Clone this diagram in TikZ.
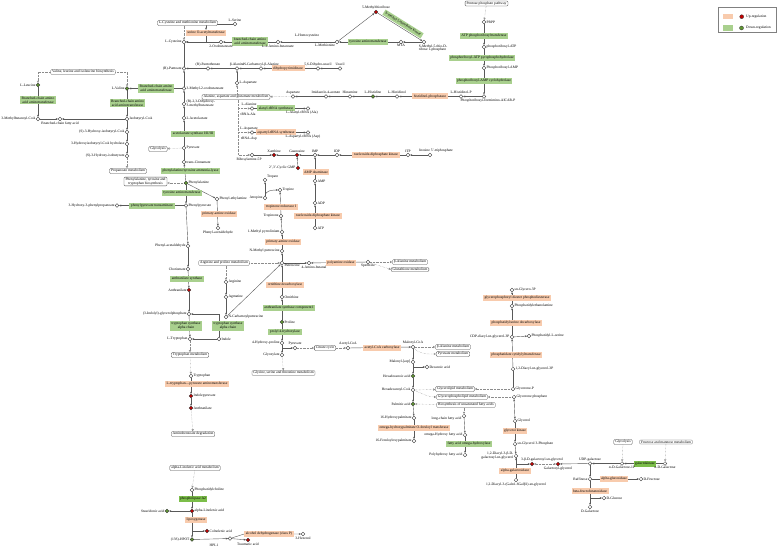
\documentclass[tikz,border=0pt]{standalone}
\usepackage{fontspec}
\setmainfont{Liberation Serif}
\usetikzlibrary{arrows.meta, shapes, positioning}
\pgfdeclarelayer{bg}
\pgfsetlayers{bg,main}
\definecolor{enzred}{RGB}{248,203,173}
\definecolor{enzgreen}{RGB}{169,208,142}
\definecolor{enzgreentwo}{RGB}{124,190,74}
\definecolor{dotred}{RGB}{192,0,0}
\definecolor{dotgreen}{RGB}{96,150,50}

\begin{document}
\begin{tikzpicture}[x=1pt, y=-1pt, >={Stealth[length=2.3pt,width=1.9pt]}, line width=0.3pt]

\tikzstyle{lbl} = [font=\fontsize{3.6}{3.9}\selectfont, inner sep=0.5pt, text=black]
\tikzstyle{cpd} = [circle, draw=black!80, fill=white, inner sep=0pt, minimum size=3.6pt]
\tikzstyle{cpdup} = [cpd, fill=dotred]
\tikzstyle{cpddn} = [cpd, fill=dotgreen]
\tikzstyle{enzup} = [rectangle, fill=enzred, lbl, inner xsep=1.5pt, inner ysep=1pt, minimum height=6pt, align=center]
\tikzstyle{enzdn} = [enzup, fill=enzgreen]
\tikzstyle{enzdk} = [enzup, fill=enzgreentwo]
\tikzstyle{pwbox} = [rectangle, rounded corners=1pt, draw=black!70, fill=white, lbl, inner xsep=1.5pt, inner ysep=0.8pt, align=center]
\tikzstyle{rxn} = [draw=black!65, ->]
\tikzstyle{maplink} = [draw=black!45, densely dotted, -{Triangle[open, length=2.2pt, width=2.2pt]}]

\useasboundingbox (0,0) rectangle (778,548);

% Legend
\node[draw=black!50, minimum width=58pt, minimum height=25.6pt, inner sep=0pt] (legend) at (747.5,19.5) {};
\node[enzup, minimum width=10pt, minimum height=5.3pt, inner sep=0pt] (legup) at (728,16.7) {};
\node[cpdup, minimum size=4pt] (legupdot) at (741.7,16.7) {};
\node[lbl, anchor=west] (leguptxt) at (745.5,16.7) {Up-regulation};
\node[enzdn, minimum width=10pt, minimum height=5.3pt, inner sep=0pt] (legdn) at (728,28) {};
\node[cpddn, minimum size=4pt] (legdndot) at (741.5,28) {};
\node[lbl, anchor=west] (legdntxt) at (745.5,28) {Down-regulation};

% Pathway maps
\node[pwbox] (cysmet) at (187.5,23) {L-Cysteine and methionine metabolism};
\node[pwbox] (pentose) at (486.5,3.5) {Pentose phosphate pathway};
\node[pwbox] (vli) at (83,72) {Valine, leucine and isoleucine biosynthesis};
\node[pwbox] (glycolysisA) at (158,149) {Glycolysis};
\node[pwbox] (propan) at (128,171) {Propanoate metabolism};
\node[pwbox] (pheb) at (145.5,181.5) {Phenylalanine, tyrosine and\\tryptophan biosynthesis};
\node[pwbox] (alaasp) at (236,97) {Alanine, aspartate and glutamate metabolism};
\node[pwbox] (argpro) at (224,263) {Arginine and proline metabolism};
\node[pwbox] (trpmet) at (190,355) {Tryptophan metabolism};
\node[pwbox] (betaalaA) at (410,262) {β-Alanine metabolism};
\node[pwbox] (glutath) at (410,269.5) {Glutathione metabolism};
\node[pwbox] (citrate) at (325,348) {Citrate cycle};
\node[pwbox] (glyser) at (283.5,373) {Glycine, serine and threonine metabolism};
\node[pwbox] (aminobenz) at (193,434) {Aminobenzoate degradation};
\node[pwbox] (linolen) at (195,468) {alpha-Linolenic acid metabolism};
\node[pwbox] (betaalaB) at (453,347) {β-Alanine metabolism};
\node[pwbox] (pyrmet) at (453,354) {Pyruvate metabolism};
\node[pwbox] (glyclip) at (455,389) {Glycerolipid metabolism};
\node[pwbox] (glycphos) at (462,397) {Glycerophospholipid metabolism};
\node[pwbox] (biounsat) at (466,405) {Biosynthesis of unsaturated fatty acids};
\node[pwbox] (glycolysisB) at (623,442) {Glycolysis};
\node[pwbox] (frucman) at (666,442) {Fructose and mannose metabolism};

% Enzymes
\node[enzup] (serat) at (206,33) {serine O-acetyltransferase};
\node[enzdn] (bcatA) at (250,41.5) {branched-chain amino\\acid aminotransferase};
\node[enzdn] (tyratA) at (368,42) {tyrosine aminotransferase};
\node[enzdn, rotate=-32] (mtrk) at (403,24) {S-methyl-5-thioribose kinase};
\node[enzdn] (atpprt) at (484,36) {ATP phosphoribosyltransferase};
\node[enzdn] (prppase) at (482,58) {phosphoribosyl-ATP pyrophosphohydrolase};
\node[enzdn] (prcyc) at (484,81) {phosphoribosyl-AMP cyclohydrolase};
\node[enzup] (hisp) at (430,96.5) {histidinol-phosphatase};
\node[enzup] (dhp) at (288,68.5) {dihydropyrimidinase};
\node[enzdn] (bcatB) at (156,88.5) {Branched-chain amino\\acid aminotransferase};
\node[enzdn] (bcatC) at (38,100) {Branched-chain amino\\acid aminotransferase};
\node[enzdn] (bcatD) at (127.5,103) {Branched-chain amino\\acid aminotransferase};
\node[enzdn] (als) at (193,134) {acetolactate synthase I/II/III};
\node[enzdn] (pal) at (190.5,171) {phenylalanine/tyrosine ammonia-lyase};
\node[enzdn] (alars) at (276,108.5) {alanyl-tRNA synthetase};
\node[enzup] (asprs) at (276,132.5) {aspartyl-tRNA synthetase};
\node[enzup] (ndkA) at (376,155) {nucleoside-diphosphate kinase};
\node[enzup] (ampd) at (316,172) {AMP deaminase};
\node[enzdn] (tyratB) at (182,193) {tyrosine aminotransferase};
\node[enzdn] (pptrans) at (152,205.5) {phenylpyruvate transaminase};
\node[enzup] (paoA) at (219,214) {primary-amine oxidase};
\node[enzup] (trr) at (281,207) {tropinone reductase I};
\node[enzup] (ndkB) at (318,216) {nucleoside-diphosphate kinase};
\node[enzup] (paoB) at (283,242) {primary-amine oxidase};
\node[enzup] (pox) at (341,263) {polyamine oxidase};
\node[enzdn] (anths) at (187,279) {anthranilate synthase};
\node[enzup] (odc) at (285,285) {ornithine decarboxylase};
\node[enzdn] (ascomp) at (289,308) {anthranilate synthase component I};
\node[enzdn] (trpsA) at (186,326) {tryptophan synthase\\alpha chain};
\node[enzdn] (trpsB) at (228,326) {tryptophan synthase\\alpha chain};
\node[enzdn] (p4h) at (285,332) {prolyl 4-hydroxylase};
\node[enzup] (acc) at (382,348) {acetyl-CoA carboxylase};
\node[enzup] (trpat) at (197,384) {L-tryptophan---pyruvate aminotransferase};
\node[enzdk] (pla2) at (193,499) {phospholipase A2};
\node[enzup] (lox) at (196,520) {lipoxygenase};
\node[enzup] (adh) at (269,534) {alcohol dehydrogenase (class P)};
\node[enzup] (ohpft) at (414,428) {omega-hydroxypalmitate O-feruloyl transferase};
\node[enzdn] (faoh) at (469,444) {fatty acid omega-hydroxylase};
\node[enzup] (gdpd) at (517,298) {glycerophosphoryl diester phosphodiesterase};
\node[enzup] (psd) at (516,323) {phosphatidylserine decarboxylase};
\node[enzup] (pct) at (516,355) {phosphatidate cytidylyltransferase};
\node[enzup] (glk) at (515,431) {glycerol kinase};
\node[enzup] (agalA) at (515,471) {alpha-galactosidase};
\node[enzdk] (galk) at (645,464) {galactokinase};
\node[enzup] (agalB) at (614,479) {alpha-glucosidase};
\node[enzup] (bfruct) at (590,491) {beta-fructofuranosidase};

% Compounds: cysteine and methionine
\node[cpd, label={[lbl]above:{L-Serine}}] (lser) at (235,24) {};
\node[cpd, label={[lbl]left:{L-Cysteine}}] (lcys) at (184,42) {};
\node[cpd, label={[lbl]below:{2-Oxobutanoate}}] (oxob) at (221,42) {};
\node[cpd, label={[lbl]below:{L-2-Amino-butanoate}}] (aminob) at (278,42) {};
\node[lbl] (homocys) at (307,36) {L-Homocysteine};
\node[cpd, label={[lbl]below left:{L-Methionine}}] (met) at (337,42) {};
\node[cpdup, label={[lbl]above:{5-Methylthioribose}}] (mtr) at (376,12) {};
\node[cpd, label={[lbl]below:{MTA}}] (mta) at (401,42) {};
\node[cpd, label={[lbl, align=left, xshift=9pt]below:{S-Methyl-5-thio-D-\\ribose 1-phosphate}}] (mtrp) at (424,42) {};

% Compounds: histidine
\node[cpd, label={[lbl]right:{PRPP}}] (prpp) at (484,22) {};
\node[cpd, label={[lbl]right:{phosphoribosyl-ATP}}] (pratp) at (484,47) {};
\node[cpd, label={[lbl]right:{Phosphoribosyl-AMP}}] (pramp) at (484,68) {};
\node[cpd, label={[lbl, xshift=4pt]below:{Phosphoribosyl-formimino-AICAR-P}}] (prfar) at (484,96.5) {};
\node[cpd, label={[lbl]above:{L-Histidinol-P}}] (hisolp) at (461,96.5) {};
\node[cpd, label={[lbl]above:{L-Histidinol}}] (hisol) at (397,96.5) {};
\node[cpddn, label={[lbl]above:{L-Histidine}}] (his) at (373,96.5) {};
\node[cpd, label={[lbl]above:{Histamine}}] (hista) at (350,96.5) {};
\node[cpd, label={[lbl]above:{Imidazole-4-acetate}}] (imac) at (326,96.5) {};
\node[cpd, label={[lbl]above:{Aspartate}}] (asp) at (293,96.5) {};

% Compounds: pantothenate
\node[cpd, label={[lbl]left:{(R)-Pantoate}}] (pantoate) at (184,68.5) {};
\node[cpd, label={[lbl]above:{(R)-Pantothenate}}] (pantothen) at (208,68.5) {};
\node[cpd, label={[lbl]above:{β-Alanine}}] (bala) at (237,68.5) {};
\node[cpd, label={[lbl]above:{N-Carbamoyl-β-Alanine}}] (ncbala) at (261,68.5) {};
\node[cpd, label={[lbl]above:{5,6-Dihydro-uracil}}] (dhu) at (318,68.5) {};
\node[cpd, label={[lbl]above:{Uracil}}] (ura) at (340,68.5) {};
\node[cpd, label={[lbl]right:{L-Aspartate}}] (laspA) at (237,83) {};

% Compounds: valine, leucine
\node[cpd, label={[lbl]right:{3-Methyl-2-oxobutanoate}}] (mob) at (184,88.5) {};
\node[cpd, label={[lbl, align=left]right:{(R)-2,3-Dihydroxy-\\3-methylbutanoate}}] (dhmb) at (184,104) {};
\node[cpd, label={[lbl]right:{2-Acetolactate}}] (acl) at (184,118) {};
\node[cpd, label={[lbl]right:{Pyruvate}}] (pyrA) at (184,148) {};
\node[cpd, label={[lbl]right:{trans-Cinnamate}}] (cinn) at (184,162) {};
\node[cpddn, label={[lbl]right:{Phenylalanine}}] (phe) at (186,183) {};
\node[cpddn, label={[lbl]left:{L-Leucine}}] (leu) at (38,85) {};
\node[cpd, label={[lbl]left:{3-Methylbutanoyl-CoA}}] (mbcoa) at (38,119) {};
\node[cpd, label={[lbl]below:{Branched-chain fatty acid}}] (bcfa) at (60,119) {};
\node[cpddn, label={[lbl]left:{L-Valine}}] (val) at (127,88.5) {};
\node[cpd, label={[lbl]right:{Isobutyryl-CoA}}] (ibcoa) at (127,119) {};
\node[cpd, label={[lbl]left:{(S)-3-Hydroxy-isobutyryl-CoA}}] (hibcoa) at (127,132) {};
\node[cpd, label={[lbl]left:{3-Hydroxyisobutyryl-CoA hydrolase}}] (hibh) at (127,144) {};
\node[cpd, label={[lbl]left:{(S)-3-Hydroxy-isobutyrate}}] (hib) at (127,156) {};

% Compounds: tRNA and purine
\node[cpd, label={[lbl, xshift=-3pt]above:{L-Alanine}}] (lala) at (252,108.5) {};
\node[lbl] (trnaala) at (248,114.5) {tRNA-Ala};
\node[cpd, label={[lbl, xshift=-6pt]below:{L-Alanyl-tRNA (Ala)}}] (alatrna) at (308,108.5) {};
\node[cpd, label={[lbl, xshift=-3pt]above:{L-Aspartate}}] (laspB) at (252,132.5) {};
\node[lbl] (trnaasp) at (249,138.5) {tRNA-Asp};
\node[cpd, label={[lbl, xshift=-5pt]below:{L-Aspartyl-tRNA (Asp)}}] (asptrna) at (308,132.5) {};
\node[cpd, label={[lbl, xshift=-3pt]below:{Ribosylamine-5P}}] (rib5p) at (252,155) {};
\node[cpdup, label={[lbl]above:{Xanthine}}] (xan) at (274,155) {};
\node[cpdup, label={[lbl]above:{Guanosine}}] (guo) at (297,155) {};
\node[cpd, label={[lbl]above:{IMP}}] (imp) at (315,155) {};
\node[cpd, label={[lbl]above:{IDP}}] (idp) at (337,155) {};
\node[cpd, label={[lbl]above:{ITP}}] (itp) at (408,155) {};
\node[cpd, label={[lbl, xshift=6pt]above:{Inosine 5'-triphosphate}}] (itpx) at (430,155) {};
\node[cpdup, label={[lbl]left:{2',3'-Cyclic GMP}}] (cgmp) at (298,168) {};
\node[cpd, label={[lbl]right:{AMP}}] (amp) at (315,181) {};
\node[cpd, label={[lbl]right:{ADP}}] (adp) at (315,203) {};
\node[cpd, label={[lbl]right:{ATP}}] (atp) at (315,228) {};

% Compounds: phenylalanine and tryptophan
\node[cpd, label={[lbl]right:{Phenyl-ethylamine}}] (pheeth) at (217,199) {};
\node[cpd, label={[lbl]below:{Phenyl-acetaldehyde}}] (phacetB) at (218,228) {};
\node[cpd, label={[lbl]right:{Phenylpyruvate}}] (phpyr) at (186,205.5) {};
\node[cpd, label={[lbl]left:{3-Hydroxy-3-phenylpropanoate}}] (hpp) at (117,205.5) {};
\node[cpd, label={[lbl]left:{Phenyl-acetaldehyde}}] (phacetA) at (188,246) {};
\node[cpd, label={[lbl]left:{Chorismate}}] (chor) at (188,269) {};
\node[cpdup, label={[lbl]left:{Anthranilate}}] (anthA) at (189,290) {};
\node[cpd, label={[lbl]left:{(3-Indolyl)-glycerolphosphate}}] (igp) at (189,314) {};
\node[cpd, label={[lbl]left:{L-Tryptophan}}] (trp) at (190,339) {};
\node[cpd, label={[lbl]right:{Indole}}] (indole) at (219,339) {};
\node[cpd, label={[lbl]right:{Tryptophan}}] (trpB) at (191,376) {};
\node[cpdup, label={[lbl]right:{Indolepyruvate}}] (ipyr) at (191,396) {};
\node[cpdup, label={[lbl]right:{Anthranilate}}] (anthB) at (191,408) {};

% Compounds: alpha-linolenic acid
\node[cpd, label={[lbl]right:{Phosphatidylcholine}}] (pc) at (192,490) {};
\node[cpdup, label={[lbl]right:{alpha-Linolenic acid}}] (ala) at (192,511) {};
\node[cpddn, label={[lbl]left:{Stearidonic acid}}] (sda) at (167,511) {};
\node[cpddn, label={[lbl]left:{(13S)-HPOT}}] (hpot) at (192,539.5) {};
\node[cpdup, label={[lbl]right:{Colnelenic acid}}] (coln) at (207,531) {};
\node[cpd] (hpl) at (230,538.5) {};
\node[lbl] (hpllab) at (214,545) {HPL1};
\node[cpdup, label={[lbl]below:{Traumatic acid}}] (tra) at (248,540) {};
\node[cpd, label={[lbl]below:{3-Hexenol}}] (hexenol) at (303,534) {};

% Compounds: arginine and proline
\node[cpd, label={[lbl]right:{Arginine}}] (arg) at (226,282) {};
\node[cpd, label={[lbl]right:{Agmatine}}] (agm) at (226,297) {};
\node[cpd, label={[lbl]right:{N-Carbamoylputrescine}}] (ncput) at (226,317) {};
\node[cpd, label={[lbl, yshift=-2.5pt]right:{Putrescine}}] (put) at (282,263) {};
\node[cpd, label={[lbl]left:{N-Methyl putrescine}}] (nmput) at (282,251) {};
\node[cpd, label={[lbl]left:{1-Methyl pyrrolinium}}] (mpyr) at (282,232) {};
\node[cpd, label={[lbl]left:{Tropinone}}] (tropinone) at (281,216) {};
\node[cpd, label={[lbl]right:{Tropine}}] (tropine) at (280,190) {};
\node[cpd, label={[lbl]left:{Atropine}}] (atropine) at (265,198) {};
\node[cpd, label={[lbl]above right:{Tropate}}] (tropate) at (265,180) {};
\node[cpd, label={[lbl]right:{Ornithine}}] (orn) at (282,297) {};
\node[cpddn, label={[lbl]right:{Proline}}] (pro) at (282,322) {};
\node[cpd, label={[lbl]left:{4-Hydroxy-proline}}] (hyp) at (282,343) {};
\node[cpd, label={[lbl]left:{Glyoxylate}}] (glyox) at (282,355) {};
\node[cpd, label={[lbl]above:{Pyruvate}}] (pyrB) at (295,348) {};
\node[cpd, label={[lbl]above:{Acetyl-CoA}}] (accoa) at (348,348) {};
\node[cpd, label={[lbl, xshift=5pt]below:{4-Amino-butanal}}] (abal) at (309,263) {};
\node[cpd, label={[lbl]below:{Spermine}}] (spm) at (368,262) {};

% Compounds: fatty acids
\node[cpd, label={[lbl]above:{Malonyl-CoA}}] (malcoa) at (413,347) {};
\node[cpd, label={[lbl]left:{Malonyl-[acp]}}] (malacp) at (413,362) {};
\node[cpd, label={[lbl]right:{Decanoic acid}}] (dec) at (427,367) {};
\node[cpddn, label={[lbl]left:{Hexadecanoic acid}}] (hexa) at (413,376) {};
\node[cpd, label={[lbl]left:{Hexadecanoyl-CoA}}] (hexcoa) at (413,390) {};
\node[cpddn, label={[lbl]left:{Palmitic acid}}] (palm) at (413,404) {};
\node[cpd, label={[lbl]left:{16-Hydroxypalmitate}}] (hpal) at (414,418) {};
\node[cpd, label={[lbl]left:{16-Feruloyloxypalmitate}}] (fpal) at (414,441) {};
\node[cpd, label={[lbl, yshift=-3pt]left:{long-chain fatty acid}}] (lcfa) at (464,416) {};
\node[cpd, label={[lbl]left:{omega-Hydroxy fatty acid}}] (ohfa) at (465,435) {};
\node[cpd, label={[lbl]left:{Polyhydroxy fatty acid}}] (phfa) at (465,455) {};

% Compounds: glycerophospholipids and galactose
\node[cpd, label={[lbl]right:{sn-Glycero-3P}}] (gpc) at (512,290) {};
\node[cpd, label={[lbl]right:{Phosphatidylethanolamine}}] (pe) at (512,306) {};
\node[cpd, label={[lbl]left:{CDP-diacyl-sn-glycerol-3P}}] (cdpdag) at (512,337) {};
\node[cpd, label={[lbl]right:{Phosphatidyl-L-serine}}] (ps) at (529,336) {};
\node[cpd, label={[lbl]right:{1,2-Diacyl-sn-glycerol-3P}}] (pa) at (513,369) {};
\node[cpd, label={[lbl]right:{Glycerone-P}}] (dhapA) at (513,389) {};
\node[cpd, label={[lbl]right:{Glycerone phosphate}}] (dhapB) at (514,397) {};
\node[cpd, label={[lbl]right:{Glycerol}}] (glyc) at (515,421) {};
\node[cpd, label={[lbl]right:{sn-Glycerol 3-Phosphate}}] (g3p) at (515,444) {};
\node[cpd, label={[lbl, align=right]left:{1,2-Diacyl-3-β-D-\\galactosyl-sn-glycerol}}] (mgdg) at (516,456) {};
\node[cpd, label={[lbl]below:{1,2-Diacyl-3-(Galα1-6Galβ1)-sn-glycerol}}] (dgdg) at (516,480) {};
\node[cpdup, label={[lbl, xshift=10pt]above:{3-β-D-galactosyl-sn-glycerol}}] (galsng) at (532,464) {};
\node[cpdup, label={[lbl]below:{Galactosyl-glycerol}}] (galgly) at (558,464) {};
\node[cpd, label={[lbl]above:{UDP-galactose}}] (udpgal) at (590,463.5) {};
\node[cpd, label={[lbl]below:{α-D-Galactose-1P}}] (galone) at (622,463.5) {};
\node[cpd, label={[lbl]below:{α-D-Galactose}}] (gal) at (665,463.5) {};
\node[cpd, label={[lbl]left:{Raffinose}}] (raff) at (590,479) {};
\node[cpd, label={[lbl]right:{D-Fructose}}] (fru) at (641,479) {};
\node[cpd, label={[lbl]right:{D-Glucose}}] (glc) at (604,498) {};
\node[cpd, label={[lbl]below:{D-Galactose}}] (dgal) at (590,507) {};

\coordinate (tv) at (238,155);
\coordinate (pj) at (282,348);
\coordinate (dj) at (413,367);
\coordinate (lj) at (192,531);
\coordinate (gj) at (590,498);

% Connections
\begin{pgfonlayer}{bg}
\fill[white] (0,0) rectangle (778,548);
\draw[maplink] (cysmet.south -| lcys) -- (lcys);
\draw[rxn] (lser) -| (serat.north);
\draw[rxn] (serat.south) |- (lcys);
\draw[rxn] (oxob) -- (lcys);
\draw[rxn] (aminob) -- (oxob);
\draw[rxn] (met) -- (aminob);
\draw[rxn] (met) -- (mtr);
\draw[rxn] (mtr) -- (mtrp);
\draw[rxn] (mtrp) -- (mta);
\draw[rxn] (mta) -- (met);
\draw[maplink] (pentose) -- (prpp);
\draw[rxn] (prpp) -- (pratp);
\draw[rxn] (pratp) -- (pramp);
\draw[rxn] (pramp) -- (prfar);
\draw[rxn] (prfar) -- (hisolp);
\draw[rxn] (hisolp) -- (hisol);
\draw[rxn] (hisol) -- (his);
\draw[rxn] (his) -- (hista);
\draw[rxn] (hista) -- (imac);
\draw[rxn] (imac) -- (asp);
\draw[maplink] (asp) -- (alaasp);
\draw[rxn] (mob) -- (pantoate);
\draw[draw=black!65] (pantoate) -- (lcys);
\draw[rxn] (pantothen) -- (pantoate);
\draw[rxn] (bala) -- (pantothen);
\draw[rxn] (ncbala) -- (bala);
\draw[rxn] (dhu) -- (ncbala);
\draw[rxn] (ura) -- (dhu);
\draw[rxn] (laspA) -- (bala);
\draw[maplink] (alaasp.north -| laspA) -- (laspA);
\draw[maplink] (vli.west) -| (leu);
\draw[maplink] (vli.east) -| (val);
\draw[rxn] (leu) -- (mbcoa);
\draw[rxn] (mbcoa) -- (bcfa);
\draw[rxn] (ibcoa) -- (bcfa);
\draw[rxn] (mob) -- (val);
\draw[rxn] (val) -- (ibcoa);
\draw[rxn] (ibcoa) -- (hibcoa);
\draw[rxn] (hibcoa) -- (hibh);
\draw[rxn] (hibh) -- (hib);
\draw[maplink] (hib) -- (propan.north -| hib);
\draw[rxn] (dhmb) -- (mob);
\draw[rxn] (acl) -- (dhmb);
\draw[rxn] (pyrA) -- (acl);
\draw[maplink] (pyrA) -- (glycolysisA);
\draw[draw=black!65] (cinn) -- (pyrA);
\draw[rxn] (phe) -- (cinn);
\draw[maplink] (phe) -- (pheb.east |- phe);
\draw[maplink] (alaasp.south -| tv) -- (tv) -- (rib5p);
\draw[maplink] (lala -| tv) -- (lala);
\draw[maplink] (laspB -| tv) -- (laspB);
\draw[rxn] (lala) -- (alatrna);
\draw[rxn] (laspB) -- (asptrna);
\draw[rxn] (rib5p) -- (xan);
\draw[rxn] (guo) -- (xan);
\draw[rxn] (imp) -- (guo);
\draw[rxn] (idp) -- (imp);
\draw[rxn] (itp) -- (idp);
\draw[rxn] (itpx) -- (itp);
\draw[rxn] (cgmp) -- (guo);
\draw[rxn] (amp) -- (imp);
\draw[rxn] (adp) -- (amp);
\draw[rxn] (atp) -- (adp);
\draw[rxn] (phe) -- (phpyr);
\draw[rxn] (phpyr) -- (hpp);
\draw[rxn] (phe) -- (pheeth);
\draw[rxn] (pheeth) -- (phacetB);
\draw[rxn] (phpyr) -- (phacetA);
\draw[rxn] (phacetA) -- (chor);
\draw[rxn] (chor) -- (anthA);
\draw[rxn] (anthA) -- (igp);
\draw[rxn] (igp) -- (trp);
\draw[rxn] (indole) |- (igp);
\draw[rxn] (indole) -- (trp);
\draw[maplink] (trp) -- (trpmet);
\draw[maplink] (trpmet) -- (trpB);
\draw[rxn] (trpB) -- (ipyr);
\draw[rxn] (ipyr) -- (anthB);
\draw[maplink] (anthB) -- (aminobenz);
\draw[maplink] (argpro.south -| arg) -- (arg);
\draw[maplink] (argpro) -- (put);
\draw[rxn] (arg) -- (agm);
\draw[rxn] (agm) -- (ncput);
\draw[rxn] (ncput) -- (put);
\draw[rxn] (put) -- (nmput);
\draw[rxn] (nmput) -- (mpyr);
\draw[rxn] (mpyr) -- (tropinone);
\draw[rxn] (tropinone) -- (tropine);
\draw[rxn] (atropine) to[out=90, in=180] (tropine);
\draw[rxn] (atropine) -- (tropate);
\draw[rxn] (orn) -- (put);
\draw[rxn] (pro) -- (orn);
\draw[rxn] (pro) -- (hyp);
\draw[rxn] (hyp) -- (glyox);
\draw[maplink] (glyox) -- (glyser);
\draw[rxn] (pj) -- (pyrB);
\draw[maplink] (pyrB) -- (citrate);
\draw[maplink] (citrate) -- (accoa);
\draw[rxn] (put) -- (abal);
\draw[rxn] (spm) -- (abal);
\draw[maplink] (spm) -- (betaalaA.west);
\draw[maplink] (spm) -- (glutath.west);
\draw[rxn] (accoa) -- (malcoa);
\draw[maplink] (malcoa) -- (betaalaB);
\draw[maplink] (malcoa) to[out=-45, in=180] (pyrmet.west);
\draw[rxn] (malcoa) -- (malacp);
\draw[rxn] (malacp) -- (hexa);
\draw[rxn] (dj) -- (dec);
\draw[rxn] (hexa) -- (hexcoa);
\draw[rxn] (hexcoa) -- (palm);
\draw[maplink] (hexcoa) -- (glyclip);
\draw[maplink] (hexcoa) to[out=-20, in=180] (glycphos.west);
\draw[maplink] (biounsat) -- (palm);
\draw[rxn] (palm) -- (hpal);
\draw[rxn] (hpal) -- (fpal);
\draw[maplink] (biounsat.south -| lcfa) -- (lcfa);
\draw[rxn] (lcfa) -- (ohfa);
\draw[rxn] (ohfa) -- (phfa);
\draw[rxn] (pe) -- (gpc);
\draw[rxn] (cdpdag) -- (pe);
\draw[rxn] (cdpdag) -- (ps);
\draw[rxn] (pa) -- (cdpdag);
\draw[draw=black!65] (pa) -- (dhapA);
\draw[maplink] (dhapA) -- (glyclip);
\draw[maplink] (dhapB) -- (glycphos);
\draw[rxn, <->] (dhapB) -- (glyc);
\draw[rxn] (glyc) -- (g3p);
\draw[rxn] (g3p) -- (mgdg);
\draw[rxn] (mgdg) |- (galsng);
\draw[rxn] (dgdg) -- (mgdg);
\draw[maplink, {Triangle[open, length=2.2pt, width=2.2pt]}-{Triangle[open, length=2.2pt, width=2.2pt]}] (galsng) -- (galgly);
\draw[rxn] (udpgal) -- (galgly);
\draw[rxn] (galone) -- (udpgal);
\draw[rxn] (gal) -- (galone);
\draw[maplink] (glycolysisB) -- (galone);
\draw[maplink] (frucman) -- (gal);
\draw[rxn] (udpgal) -- (raff);
\draw[rxn] (raff) -- (fru);
\draw[rxn] (raff) -- (dgal);
\draw[rxn] (gj) -- (glc);
\draw[maplink] (linolen) -- (pc);
\draw[rxn] (pc) -- (ala);
\draw[rxn] (ala) -- (sda);
\draw[rxn] (ala) -- (hpot);
\draw[rxn] (lj) -- (coln);
\draw[rxn] (hpot) -- (hpl);
\draw[rxn] (hpl) -- (tra);
\draw[rxn] (hpl) -- (adh.west) -- (hexenol);
\end{pgfonlayer}

\end{tikzpicture}
\end{document}
